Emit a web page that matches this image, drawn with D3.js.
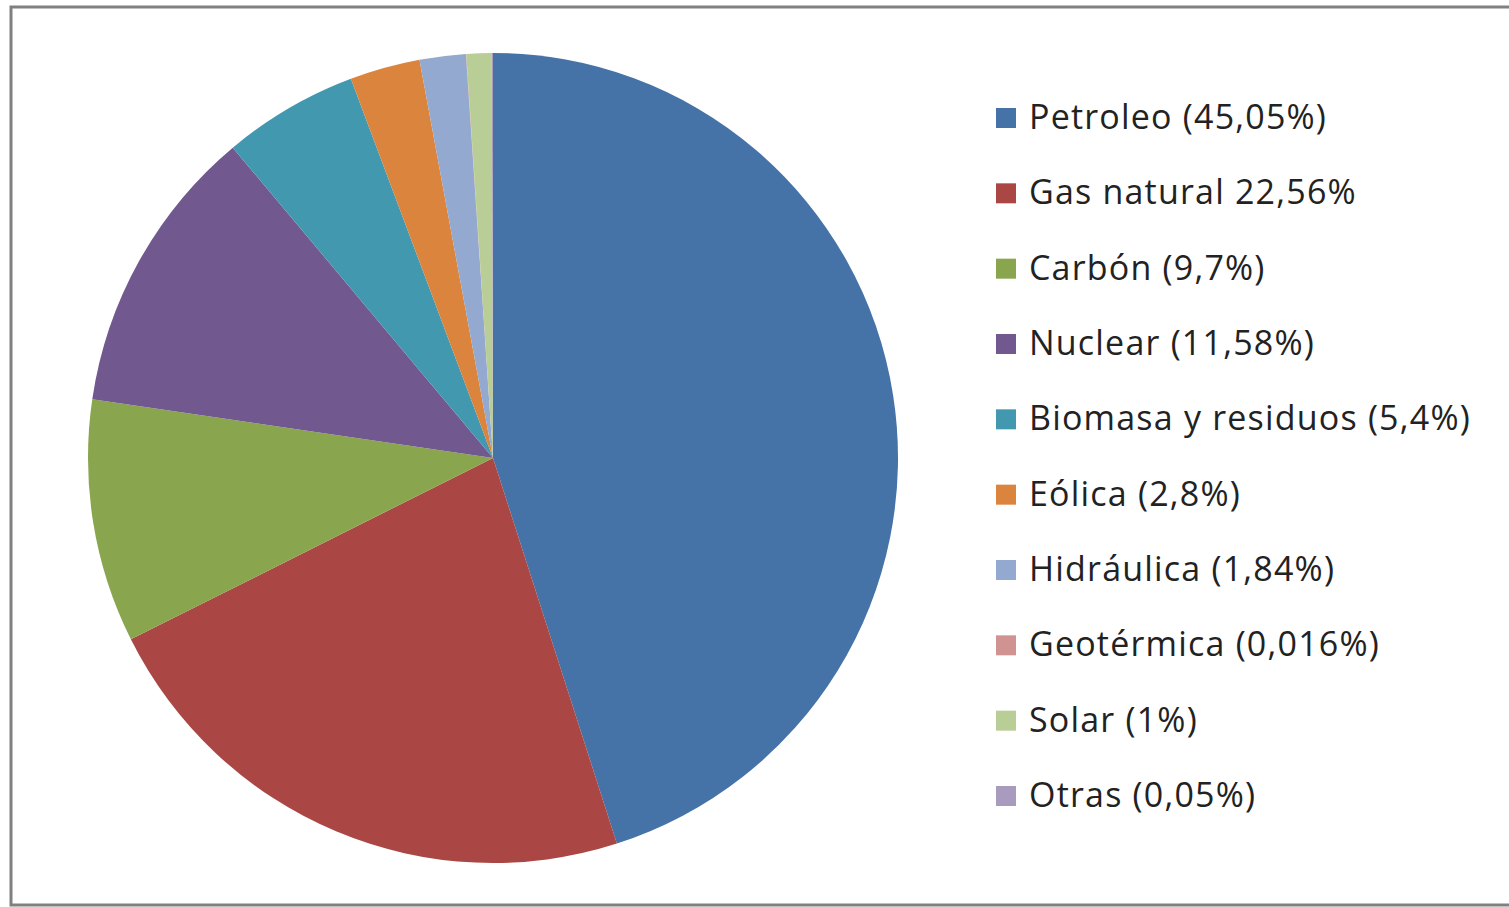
<html>
<head><meta charset="utf-8"></head>
<script src='https://d3js.org/d3.v7.min.js'></script>
<body style="margin:0; background:#fff;">
<svg width=1509 height=907></svg>
<script>

var labels = ["Petroleo (45,05%)", "Gas natural 22,56%", "Carbón (9,7%)", "Nuclear (11,58%)",
    "Biomasa y residuos (5,4%)", "Eólica (2,8%)", "Hidráulica (1,84%)", "Geotérmica (0,016%)",
    "Solar (1%)", "Otras (0,05%)"];
var values = [45.05, 22.56, 9.7, 11.58, 5.4, 2.8, 1.84, 0.016, 1, 0.05];
var colors = ["#4572a7", "#aa4643", "#89a54e", "#71588f", "#4198af", "#db843d", "#93a9cf", "#d19392", "#b9cd96", "#a99bbd"];

var svg = d3.select('svg');

// frame
svg.append("rect")
    .attr("x", 11).attr("y", 7)
    .attr("width", 1510).attr("height", 898)
    .attr("fill", "white")
    .attr("stroke", "#808080")
    .attr("stroke-width", 3);

var pie = d3.pie().sort(null).value(d => d)(values);
var arc = d3.arc().innerRadius(0).outerRadius(405);

svg.append("g").attr("transform", "translate(493,458)")
    .selectAll("path")
    .data(pie)
    .join("path")
    .attr("d", arc)
    .attr("fill", (d, i) => colors[i]);

var ly = d3.scalePoint().domain(d3.range(labels.length)).range([118, 796]);

var leg = svg.append("g").selectAll("g")
    .data(labels)
    .join("g")
    .attr("transform", (d, i) => "translate(996," + ly(i) + ")");

leg.append("rect")
    .attr("x", 0).attr("y", -10)
    .attr("width", 20).attr("height", 20)
    .attr("fill", (d, i) => colors[i]);

leg.append("text")
    .attr("x", 33).attr("y", 11)
    .attr("font-family", "Open Sans")
    .attr("font-size", "34px")
    .attr("letter-spacing", "1.2px")
    .attr("fill", "#222")
    .text(d => d);
</script>
</body>
</html>
